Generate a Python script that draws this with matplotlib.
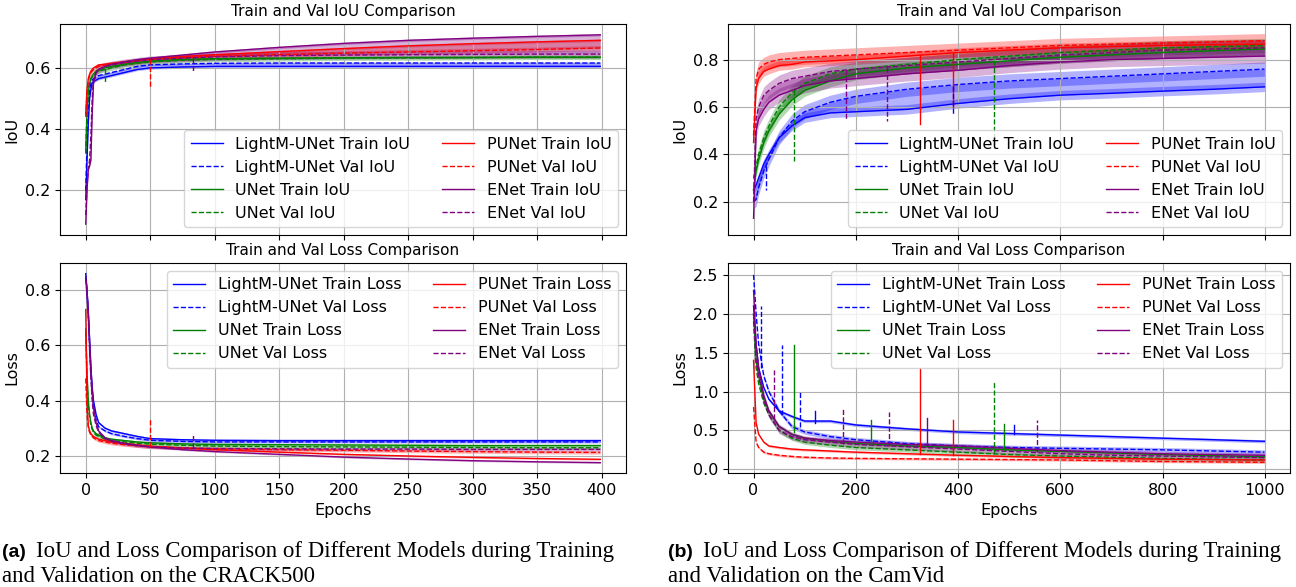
import numpy as np
import matplotlib.pyplot as plt

# ---------------- CRACK500 (values read at checkpoint epochs) ----------------
crack_ep = [0, 1, 2, 3, 4, 5, 6, 8, 10, 15, 20, 30, 40, 50, 75, 100, 150, 200, 250, 300, 350, 399]

crack_iou_lm_tr = [0.17, 0.30, 0.42, 0.50, 0.53, 0.55, 0.555, 0.56, 0.565, 0.57, 0.575, 0.585, 0.595, 0.600, 0.603, 0.605, 0.605, 0.605, 0.605, 0.605, 0.605, 0.605]
crack_iou_lm_va = [0.20, 0.35, 0.47, 0.53, 0.55, 0.56, 0.565, 0.57, 0.575, 0.58, 0.585, 0.595, 0.605, 0.610, 0.613, 0.615, 0.616, 0.616, 0.616, 0.616, 0.616, 0.616]
crack_iou_un_tr = [0.33, 0.45, 0.52, 0.55, 0.565, 0.575, 0.58, 0.59, 0.595, 0.60, 0.605, 0.612, 0.618, 0.622, 0.628, 0.630, 0.632, 0.633, 0.634, 0.634, 0.635, 0.635]
crack_iou_un_va = [0.32, 0.47, 0.53, 0.555, 0.565, 0.57, 0.575, 0.585, 0.59, 0.595, 0.60, 0.61, 0.615, 0.62, 0.625, 0.628, 0.63, 0.632, 0.633, 0.634, 0.635, 0.635]
crack_iou_pu_tr = [0.45, 0.53, 0.565, 0.58, 0.59, 0.595, 0.60, 0.605, 0.61, 0.612, 0.615, 0.62, 0.625, 0.630, 0.637, 0.643, 0.653, 0.663, 0.672, 0.679, 0.685, 0.690]
crack_iou_pu_va = [0.44, 0.52, 0.56, 0.575, 0.585, 0.59, 0.595, 0.60, 0.605, 0.61, 0.613, 0.618, 0.623, 0.628, 0.633, 0.638, 0.643, 0.648, 0.652, 0.656, 0.66, 0.665]
crack_iou_en_tr = [0.09, 0.20, 0.27, 0.28, 0.30, 0.45, 0.55, 0.585, 0.595, 0.605, 0.612, 0.62, 0.627, 0.632, 0.642, 0.652, 0.667, 0.680, 0.690, 0.697, 0.703, 0.708]
crack_iou_en_va = [0.12, 0.22, 0.27, 0.30, 0.38, 0.50, 0.56, 0.585, 0.595, 0.605, 0.61, 0.617, 0.622, 0.627, 0.632, 0.636, 0.64, 0.642, 0.643, 0.644, 0.645, 0.645]

crack_loss_lm_tr = [0.86, 0.80, 0.72, 0.62, 0.52, 0.45, 0.40, 0.35, 0.32, 0.30, 0.29, 0.28, 0.27, 0.262, 0.258, 0.256, 0.255, 0.255, 0.255, 0.255, 0.255, 0.255]
crack_loss_lm_va = [0.85, 0.79, 0.71, 0.60, 0.50, 0.43, 0.38, 0.33, 0.305, 0.29, 0.28, 0.27, 0.262, 0.256, 0.252, 0.25, 0.25, 0.25, 0.25, 0.25, 0.25, 0.25]
crack_loss_un_tr = [0.66, 0.50, 0.40, 0.35, 0.32, 0.30, 0.29, 0.28, 0.275, 0.265, 0.26, 0.255, 0.25, 0.247, 0.243, 0.241, 0.24, 0.239, 0.238, 0.237, 0.237, 0.237]
crack_loss_un_va = [0.65, 0.48, 0.38, 0.34, 0.31, 0.295, 0.285, 0.275, 0.27, 0.26, 0.255, 0.25, 0.245, 0.242, 0.238, 0.235, 0.233, 0.232, 0.231, 0.23, 0.229, 0.229]
crack_loss_pu_tr = [0.73, 0.40, 0.31, 0.29, 0.28, 0.275, 0.27, 0.265, 0.26, 0.255, 0.25, 0.245, 0.24, 0.235, 0.228, 0.222, 0.213, 0.205, 0.199, 0.194, 0.19, 0.187]
crack_loss_pu_va = [0.48, 0.35, 0.30, 0.285, 0.275, 0.27, 0.265, 0.26, 0.255, 0.25, 0.245, 0.24, 0.236, 0.232, 0.228, 0.225, 0.222, 0.22, 0.217, 0.215, 0.213, 0.212]
crack_loss_en_tr = [0.85, 0.80, 0.72, 0.62, 0.52, 0.44, 0.38, 0.32, 0.29, 0.265, 0.255, 0.245, 0.238, 0.232, 0.222, 0.215, 0.205, 0.195, 0.188, 0.182, 0.178, 0.175]
crack_loss_en_va = [0.84, 0.78, 0.70, 0.58, 0.48, 0.40, 0.35, 0.31, 0.285, 0.262, 0.252, 0.243, 0.236, 0.232, 0.228, 0.226, 0.225, 0.224, 0.224, 0.223, 0.223, 0.223]

# epoch-to-epoch jitter (half width) seen around each curve
crack_iou_noise = [0.004, 0.003, 0.004, 0.008, 0.004, 0.008, 0.004, 0.012]
crack_loss_noise = [0.004, 0.004, 0.004, 0.006, 0.003, 0.006, 0.003, 0.006]

# isolated spikes: (series index, epoch, base, peak)
crack_iou_spikes = [(5, 50, 0.628, 0.535), (7, 83, 0.632, 0.59), (3, 15, 0.595, 0.55)]
crack_loss_spikes = [(5, 50, 0.232, 0.335), (7, 83, 0.228, 0.275)]

# ---------------- CamVid ----------------
cam_ep = [0, 5, 10, 20, 30, 50, 75, 100, 150, 200, 300, 400, 500, 600, 700, 800, 900, 999]

cam_iou_lm_tr = [0.25, 0.27, 0.30, 0.36, 0.40, 0.47, 0.52, 0.555, 0.575, 0.58, 0.59, 0.615, 0.635, 0.65, 0.658, 0.667, 0.675, 0.685]
cam_iou_lm_va = [0.20, 0.21, 0.26, 0.33, 0.38, 0.47, 0.54, 0.58, 0.62, 0.645, 0.675, 0.695, 0.71, 0.72, 0.73, 0.74, 0.75, 0.76]
cam_iou_un_tr = [0.25, 0.33, 0.38, 0.45, 0.50, 0.57, 0.63, 0.67, 0.71, 0.74, 0.765, 0.78, 0.795, 0.81, 0.82, 0.83, 0.838, 0.845]
cam_iou_un_va = [0.30, 0.35, 0.40, 0.47, 0.52, 0.60, 0.66, 0.70, 0.74, 0.76, 0.78, 0.80, 0.815, 0.83, 0.84, 0.85, 0.855, 0.86]
cam_iou_pu_tr = [0.45, 0.68, 0.72, 0.75, 0.76, 0.775, 0.78, 0.79, 0.795, 0.80, 0.815, 0.83, 0.84, 0.85, 0.855, 0.86, 0.863, 0.865]
cam_iou_pu_va = [0.48, 0.72, 0.76, 0.78, 0.79, 0.80, 0.805, 0.81, 0.815, 0.82, 0.83, 0.84, 0.85, 0.86, 0.865, 0.87, 0.875, 0.88]
cam_iou_en_tr = [0.13, 0.50, 0.55, 0.59, 0.62, 0.65, 0.67, 0.69, 0.71, 0.72, 0.74, 0.755, 0.775, 0.79, 0.80, 0.805, 0.81, 0.815]
cam_iou_en_va = [0.20, 0.55, 0.60, 0.65, 0.67, 0.70, 0.72, 0.73, 0.75, 0.76, 0.775, 0.79, 0.805, 0.82, 0.83, 0.84, 0.845, 0.85]

cam_loss_lm_tr = [2.10, 1.60, 1.30, 1.05, 0.90, 0.75, 0.68, 0.62, 0.62, 0.57, 0.52, 0.48, 0.46, 0.44, 0.42, 0.40, 0.38, 0.36]
cam_loss_lm_va = [2.50, 2.00, 1.60, 1.20, 1.00, 0.75, 0.55, 0.48, 0.42, 0.38, 0.33, 0.30, 0.28, 0.27, 0.26, 0.25, 0.235, 0.22]
cam_loss_un_tr = [2.00, 1.40, 1.20, 0.90, 0.75, 0.55, 0.45, 0.40, 0.36, 0.33, 0.30, 0.28, 0.25, 0.23, 0.21, 0.19, 0.175, 0.16]
cam_loss_un_va = [1.90, 1.30, 1.10, 0.85, 0.70, 0.50, 0.40, 0.35, 0.31, 0.28, 0.25, 0.22, 0.19, 0.17, 0.155, 0.14, 0.13, 0.12]
cam_loss_pu_tr = [1.40, 0.60, 0.45, 0.35, 0.30, 0.28, 0.26, 0.25, 0.235, 0.22, 0.20, 0.18, 0.165, 0.15, 0.14, 0.13, 0.125, 0.12]
cam_loss_pu_va = [0.80, 0.35, 0.28, 0.22, 0.20, 0.18, 0.165, 0.155, 0.145, 0.14, 0.135, 0.13, 0.125, 0.12, 0.11, 0.10, 0.095, 0.09]
cam_loss_en_tr = [2.30, 1.60, 1.30, 0.95, 0.75, 0.55, 0.45, 0.40, 0.37, 0.35, 0.32, 0.30, 0.27, 0.24, 0.22, 0.20, 0.19, 0.18]
cam_loss_en_va = [2.00, 1.40, 1.20, 0.90, 0.70, 0.50, 0.42, 0.38, 0.35, 0.32, 0.29, 0.26, 0.23, 0.20, 0.18, 0.17, 0.16, 0.15]

cam_iou_noise = [0.02, 0.03, 0.025, 0.03, 0.02, 0.03, 0.03, 0.035]
cam_loss_noise = [0.02, 0.03, 0.02, 0.03, 0.015, 0.015, 0.03, 0.04]

cam_iou_spikes = [(4, 325, 0.82, 0.53), (4, 390, 0.83, 0.60), (7, 260, 0.77, 0.54), (7, 180, 0.76, 0.55),
                  (1, 390, 0.69, 0.57), (3, 470, 0.80, 0.47), (3, 80, 0.67, 0.37), (1, 25, 0.35, 0.25)]
cam_loss_spikes = [(1, 55, 0.70, 1.60), (1, 90, 0.55, 1.00), (1, 15, 1.30, 2.10), (2, 80, 0.48, 1.60),
                   (4, 325, 0.20, 1.30), (3, 470, 0.20, 1.13), (7, 175, 0.33, 0.77), (7, 265, 0.30, 0.74),
                   (7, 555, 0.22, 0.64), (4, 390, 0.19, 0.63), (7, 40, 0.65, 1.28), (0, 120, 0.60, 0.75),
                   (2, 490, 0.25, 0.58), (0, 510, 0.45, 0.57), (2, 230, 0.32, 0.63), (6, 340, 0.30, 0.66)]

models = ['LightM-UNet', 'UNet', 'PUNet', 'ENet']
colors = ['blue', 'green', 'red', 'purple']


def draw_panel(ax, ep, series, noise, spikes, metric, fill):
    for i, vals in enumerate(series):
        m = i // 2
        ls = '-' if i % 2 == 0 else '--'
        kind = 'Train' if i % 2 == 0 else 'Val'
        vals = np.array(vals)
        ax.fill_between(ep, vals - noise[i], vals + noise[i], color=colors[m], alpha=0.3, lw=0)
        ax.plot(ep, vals, color=colors[m], ls=ls, lw=1,
                label=f'{models[m]} {kind} {metric}')
    if fill:
        for m in range(4):
            ax.fill_between(ep, series[2 * m], series[2 * m + 1], color=colors[m], alpha=0.3, lw=0)
    for i, e, base, peak in spikes:
        ls = '-' if i % 2 == 0 else '--'
        ax.plot([e, e], [base, peak], color=colors[i // 2], ls=ls, lw=1)
    ax.grid(True)
    ax.tick_params(labelsize=11.5)


plt.rcParams['font.size'] = 11.5
fig = plt.figure(figsize=(12.96, 5.87), dpi=100)

W, H = 1296, 587
def rect(x0, x1, y0, y1):
    return [x0 / W, 1 - y1 / H, (x1 - x0) / W, (y1 - y0) / H]

panels = [
    (crack_ep, [crack_iou_lm_tr, crack_iou_lm_va, crack_iou_un_tr, crack_iou_un_va,
                crack_iou_pu_tr, crack_iou_pu_va, crack_iou_en_tr, crack_iou_en_va],
     crack_iou_noise, crack_iou_spikes,
     [crack_loss_lm_tr, crack_loss_lm_va, crack_loss_un_tr, crack_loss_un_va,
      crack_loss_pu_tr, crack_loss_pu_va, crack_loss_en_tr, crack_loss_en_va],
     crack_loss_noise, crack_loss_spikes, 60, 626),
    (cam_ep, [cam_iou_lm_tr, cam_iou_lm_va, cam_iou_un_tr, cam_iou_un_va,
              cam_iou_pu_tr, cam_iou_pu_va, cam_iou_en_tr, cam_iou_en_va],
     cam_iou_noise, cam_iou_spikes,
     [cam_loss_lm_tr, cam_loss_lm_va, cam_loss_un_tr, cam_loss_un_va,
      cam_loss_pu_tr, cam_loss_pu_va, cam_loss_en_tr, cam_loss_en_va],
     cam_loss_noise, cam_loss_spikes, 728, 1290),
]

for ep, iou, iou_n, iou_s, loss, loss_n, loss_s, x0, x1 in panels:
    ax1 = fig.add_axes(rect(x0, x1, 24, 235))
    ax2 = fig.add_axes(rect(x0, x1, 263, 473), sharex=ax1)
    draw_panel(ax1, ep, iou, iou_n, iou_s, 'IoU', True)
    draw_panel(ax2, ep, loss, loss_n, loss_s, 'Loss', False)
    ax1.set_title('Train and Val IoU Comparison', fontsize=11)
    ax1.set_ylabel('IoU')
    ax1.legend(loc='lower right', ncol=2, fontsize=11.5)
    ax1.tick_params(labelbottom=False)
    ax2.set_title('Train and Val Loss Comparison', fontsize=11)
    ax2.set_ylabel('Loss')
    ax2.set_xlabel('Epochs')
    ax2.legend(loc='upper right', ncol=2, fontsize=11.5)

serif = 'Liberation Serif'
fig.text(2 / W, 1 - 557 / H, '(a)', fontsize=14, fontweight='bold', family='Liberation Sans')
fig.text(36 / W, 1 - 557 / H, 'IoU and Loss Comparison of Different Models during Training', fontsize=16.5, family=serif)
fig.text(2 / W, 1 - 582 / H, 'and Validation on the CRACK500', fontsize=16.5, family=serif)
fig.text(668 / W, 1 - 557 / H, '(b)', fontsize=14, fontweight='bold', family='Liberation Sans')
fig.text(703 / W, 1 - 557 / H, 'IoU and Loss Comparison of Different Models during Training', fontsize=16.5, family=serif)
fig.text(668 / W, 1 - 582 / H, 'and Validation on the CamVid', fontsize=16.5, family=serif)

fig.savefig('out.png', dpi=100)
